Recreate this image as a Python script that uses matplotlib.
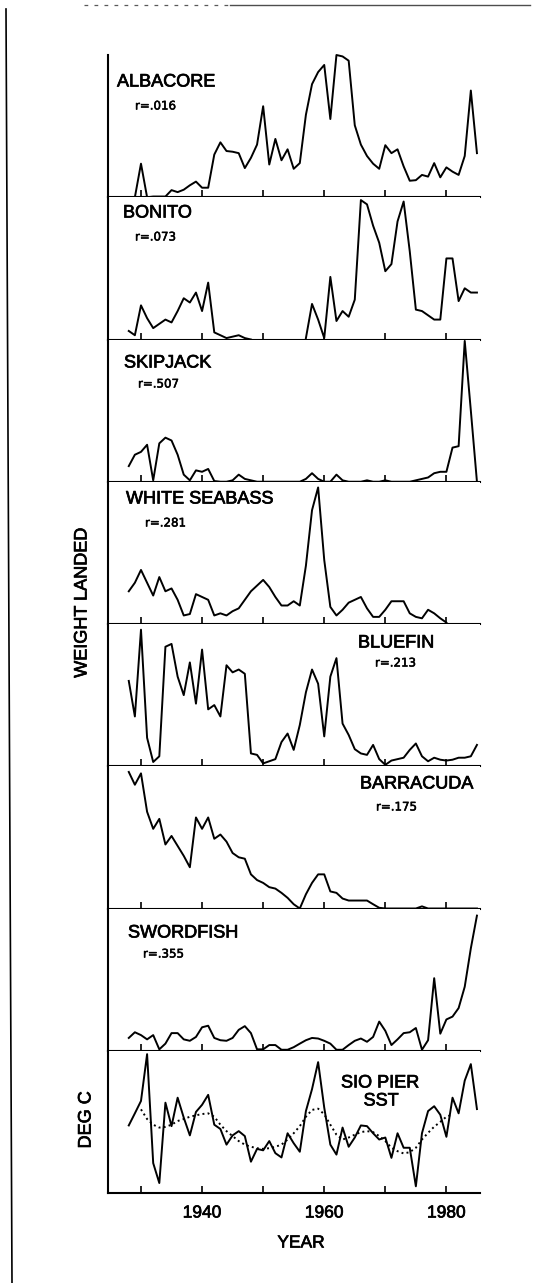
import matplotlib
matplotlib.use('Agg')
import matplotlib.pyplot as plt
import matplotlib.patheffects as pe
from matplotlib.lines import Line2D

nan = float('nan')

years = list(range(1928, 1986))

albacore = [0, 0, 23.6, 0, 0.5, 0.5, 0.5, 5, 3.6, 5.3,
            8.4, 11, 6.7, 6.7, 30, 38.6, 32.5, 32, 31, 20.5,
            27.7, 37, 64, 23, 41, 26, 33.7, 20, 24, 58,
            79.5, 88, 93, 55, 100, 99, 96, 50.6, 37, 29,
            23.6, 20, 36.6, 31, 33.7, 21.7, 11.6, 12, 15.7, 14.5,
            24, 14, 21, 18, 15.7, 29, 75, 31]

bonito = [6, 3, 24, 15, 8, 11, 14, 12, 20, 29,
          26, 33, 20, 40, 5, 3, 1, 2, 3, 1,
          0, nan, nan, nan, nan, nan, nan, nan, nan, 1,
          25, 14, 1, 44, 13, 20, 16, 28, 98, 95,
          80, 68, 48, 53, 83, 97, 62, 21, 20, 17,
          14, 14, 57, 57, 27, 36, 33, 33]

skipjack = [11, 19, 21, 26, 1, 27, 31, 29, 19, 5,
            1, 8, 7, 9, 0.5, 0, 0, 1, 5, 2,
            1, 0, 0, 0, 0, 0, 0, 0, 0, 2,
            6, 2, 0, 0, 5, 1, 0, 0, 0, 1,
            0, 0, 1, 0, 0, 0, 0, 1, 2, 3,
            6, 7, 7, 24, 25, 99, 50, 0]

white_seabass = [23, 29, 38, 29, 20, 33, 23, 25, 17, 6,
                 7, 21, 19, 17, 6, 7.5, 6, 9, 11, 17,
                 23, 27, 31, 26, 19, 13, 13, 16, 13, 41,
                 80, 96, 45, 12, 6, 10, 15, 17, 19, 11,
                 5, 5, 10, 16, 16, 16, 7.5, 5, 4, 10,
                 7.5, 4, 1, nan, nan, nan, nan, nan]

bluefin = [60, 35, 96, 20, 3, 7, 84, 86, 63, 50,
           73, 44, 82, 40, 43, 35, 71, 66, 68, 65,
           9, 8, 2, 3.5, 5, 17, 23, 11.5, 29, 52,
           68, 58, 21, 63, 76, 30, 22, 12, 9, 8,
           15, 5, 1, 4, 5, 6, 11.5, 16, 7, 3.5,
           6, 4.6, 4, 4.6, 6, 6, 7, 15]

barracuda = [96, 87, 95, 68, 56, 63, 45, 51, 44, 37,
             29, 64, 56, 64, 49, 52, 47, 39, 36, 35,
             24, 20, 18, 15, 14, 11, 7.5, 3, 0, 10,
             18, 24, 24, 12, 11, 7, 5.6, 5.6, 5.6, 5.6,
             3, 0.5, 0, 0, 0, 0, 0, 0, 1.5, 0,
             0, 0, 0, 0, 0, 0, 0, 0]

swordfish = [9, 13, 11, 8, 11, 1, 5, 12.4, 12.4, 8,
             7, 9.7, 16.5, 17.6, 9, 7.4, 7, 9, 14.7, 17.3,
             12.4, 1, 1, 4, 4, 0.7, 0.7, 2.5, 5, 7.4,
             9, 8.6, 7, 5, 0.7, 0.7, 4, 7, 8.6, 6.3,
             9.7, 20.5, 14, 4, 8, 12.4, 13, 16, 0.7, 7.4,
             51, 12, 22, 24, 30, 45, 72, 95]

sst = [47.5, 56, 64.7, 97.6, 21, 7, 63.5, 47, 67, 53,
       40.5, 57, 62, 69, 48, 45, 34, 40.5, 43.5, 40,
       22, 31, 30, 36.5, 28, 25, 42, 35, 29, 57.6,
       73, 92, 60, 34, 27, 46, 32.5, 39, 47.5, 47,
       42, 37.6, 39, 24.7, 42, 31.8, 31.8, 4.7, 42, 57.6,
       61, 55, 39.5, 67, 56, 79, 90.6, 59]

# smoothed SST (dotted)
sst_smooth = [nan, nan, 58.8, 52, 48, 46, 46.5, 48, 50.6, 52,
              53.6, 54.6, 55.5, 56, 53.6, 48, 43.5, 40, 36.5, 34,
              32.5, 31.5, 31, 31.5, 32.5, 34, 37.6, 42, 47, 53.6,
              58.4, 59.3, 55.3, 48, 41, 37.6, 39, 41, 42.8, 43.5,
              42.8, 40, 36.5, 31.8, 29.4, 27.8, 28.7, 31.8, 37.6, 42.3,
              46.6, 50, 53.6, 55.3, nan, nan, nan, nan]

species = ["ALBACORE", "BONITO", "SKIPJACK", "WHITE SEABASS",
           "BLUEFIN", "BARRACUDA", "SWORDFISH"]
r_values = ["r=.016", "r=.073", "r=.507", "r=.281",
            "r=.213", "r=.175", "r=.355"]
series = [albacore, bonito, skipjack, white_seabass,
          bluefin, barracuda, swordfish]

# label positions in pixels (title x, title y, r x, r y)
label_pos = [(117, 82, 135, 106), (123, 213, 135, 237), (124, 363, 138, 384),
             (126, 499, 145, 523), (358, 643, 375, 663), (360, 784, 376, 807),
             (128, 933, 143, 954)]

tick_years = [1930, 1940, 1950, 1960, 1970, 1980]
tick_labels = ["", "1940", "", "1960", "", "1980"]

W, H = 550, 1283
FONT = 'Liberation Sans'


# scanned print looks heavier than the plain font
def thick(w):
    return [pe.withStroke(linewidth=w, foreground='black')]


def fx(px):
    return px / W


def fy(py):
    return 1 - py / H


def label(fig, x, y, s, stroke=0.5, **kw):
    kw.setdefault('fontsize', 13)
    kw.setdefault('family', FONT)
    t = fig.text(fx(x), fy(y), s, va='center', **kw)
    t.set_path_effects(thick(stroke))
    return t


def style_axis(ax, last):
    for s in ['top', 'right']:
        ax.spines[s].set_visible(False)
    for s in ['left', 'bottom']:
        ax.spines[s].set_linewidth(1.5)
    ax.set_xlim(1924.6, 1985.5)
    ax.set_ylim(0, 100)
    ax.set_yticks([])
    ax.set_xticks(tick_years)
    ax.tick_params(axis='x', direction='in', length=5, width=1.2,
                   labelbottom=last, pad=9)
    if last:
        ax.set_xticklabels(tick_labels, fontsize=12.5, family=FONT)
        for t in ax.get_xticklabels():
            t.set_path_effects(thick(0.5))


def main():
    fig = plt.figure(figsize=(5.5, 12.83), dpi=100)
    left, right, top, bottom = 108, 480, 55, 1193
    ph = (bottom - top) / 8.0

    for i in range(8):
        ax = fig.add_axes([fx(left), fy(top + (i + 1) * ph),
                           (right - left) / W, ph / H])
        style_axis(ax, i == 7)
        if i < 7:
            ax.plot(years, series[i], color='black', lw=1.4, clip_on=False)
            tx, ty, rx, ry = label_pos[i]
            label(fig, tx, ty, species[i], ha='left')
            label(fig, rx, ry, r_values[i], stroke=0.4, ha='left',
                  fontsize=8.5, family='DejaVu Sans')
        else:
            ax.plot(years, sst, color='black', lw=1.4, clip_on=False)
            ax.plot(years, sst_smooth, color='black', lw=1.4, ls=':')
            label(fig, 380, 1083, "SIO PIER", ha='center')
            label(fig, 381, 1101, "SST", ha='center')

    label(fig, 82, 603, "WEIGHT LANDED", rotation=90, ha='center')
    label(fig, 86, 1120, "DEG C", rotation=90, ha='center')
    label(fig, 301, 1243, "YEAR", ha='center', fontsize=12.5)

    # page border left over from the scan
    fig.add_artist(Line2D([fx(6), fx(12)], [fy(9), fy(1283)],
                          color='black', lw=1.2))
    fig.add_artist(Line2D([fx(84), fx(230)], [fy(5), fy(5)],
                          color='0.35', lw=0.9, ls=(0, (3, 5))))
    fig.add_artist(Line2D([fx(230), fx(530)], [fy(5), fy(5)],
                          color='0.3', lw=1.0))

    fig.savefig('out.png', dpi=100)


if __name__ == '__main__':
    main()
